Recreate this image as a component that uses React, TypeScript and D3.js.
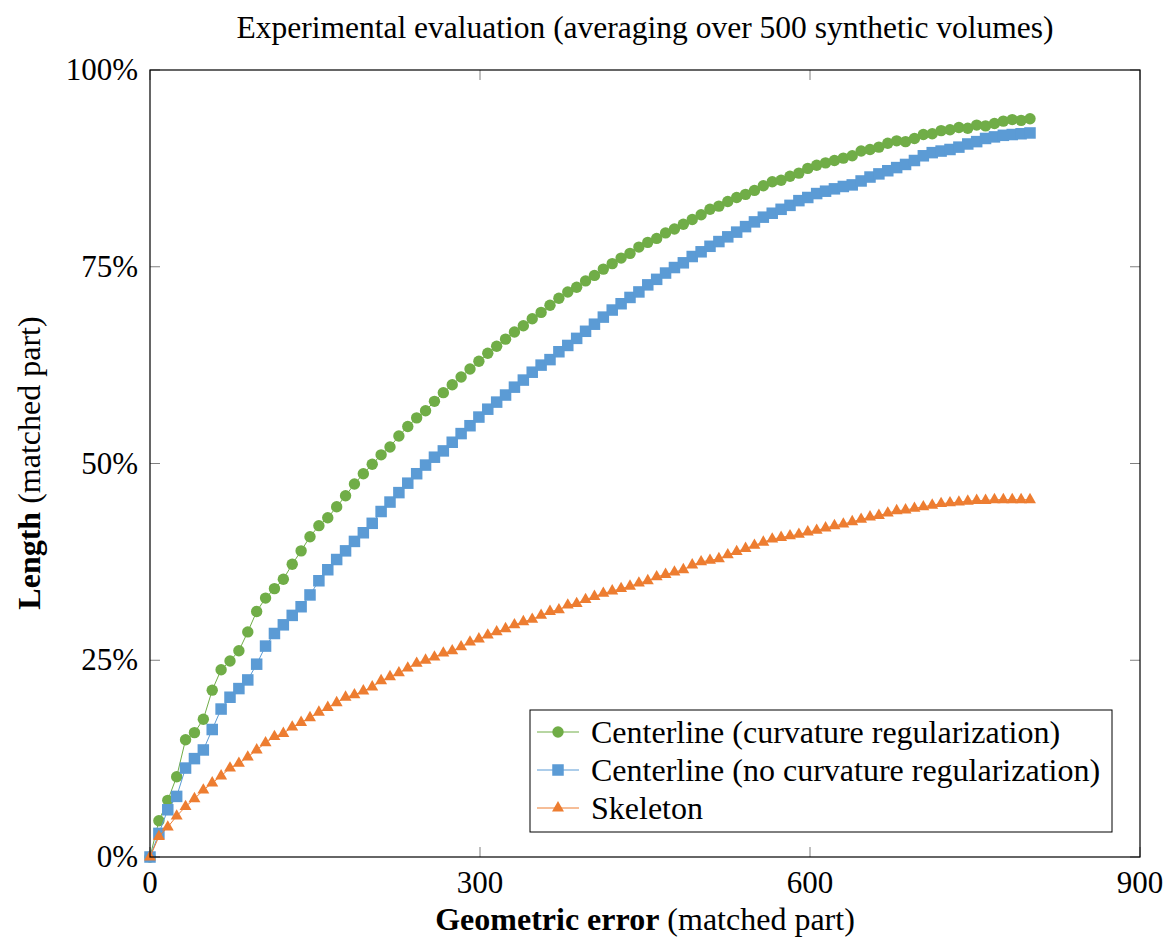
import React from "react";
import * as d3 from "d3";

// geometric error grid (100 evaluation thresholds between 0 and 800)
const errors = d3.range(100).map((i) => (i * 800) / 99);

const withCurvature = [
  0, 4.6, 7.2, 10.2, 14.9, 15.8, 17.5, 21.2, 23.8, 24.9, 26.2, 28.6, 31.2, 32.9, 34.1, 35.3, 37.2,
  38.9, 40.7, 42.1, 43.1, 44.5, 45.9, 47.4, 48.7, 49.9, 51.1, 52.1, 53.5, 54.7, 55.8, 56.7, 57.9,
  59.0, 60.0, 61.0, 62.0, 63.0, 64.0, 64.9, 65.8, 66.7, 67.5, 68.4, 69.2, 70.1, 71.0, 71.8, 72.4,
  73.2, 73.9, 74.7, 75.4, 76.1, 76.7, 77.5, 78.1, 78.6, 79.3, 79.8, 80.4, 81.0, 81.6, 82.3, 82.7,
  83.3, 83.8, 84.2, 84.7, 85.3, 85.8, 86.0, 86.5, 86.9, 87.5, 87.9, 88.2, 88.5, 88.8, 89.1, 89.7,
  89.9, 90.2, 90.7, 91.0, 90.9, 91.3, 91.8, 91.9, 92.3, 92.4, 92.7, 92.6, 93.0, 92.9, 93.2, 93.5,
  93.7, 93.6, 93.8,
];

const noCurvature = [
  0, 3.0, 6.0, 7.7, 11.3, 12.5, 13.6, 16.2, 18.8, 20.3, 21.4, 22.5, 24.5, 26.8, 28.4, 29.5, 30.7,
  31.8, 33.3, 35.1, 36.5, 37.8, 38.9, 40.1, 41.2, 42.4, 43.9, 45.1, 46.3, 47.5, 48.7, 49.8, 50.8,
  51.6, 52.7, 53.8, 54.8, 55.9, 56.9, 57.8, 58.7, 59.7, 60.6, 61.6, 62.5, 63.2, 64.2, 65.0, 65.9,
  66.8, 67.7, 68.6, 69.5, 70.3, 71.1, 71.8, 72.7, 73.4, 74.2, 74.9, 75.5, 76.3, 76.9, 77.6, 78.2,
  78.8, 79.4, 80.1, 80.7, 81.3, 81.8, 82.3, 82.8, 83.4, 83.8, 84.3, 84.6, 84.9, 85.2, 85.4, 85.9,
  86.4, 86.8, 87.2, 87.6, 88.0, 88.5, 89.1, 89.5, 89.7, 89.9, 90.2, 90.6, 90.9, 91.3, 91.5, 91.7,
  91.8, 91.9, 92.0,
];

const skeleton = [
  0, 2.6, 3.8, 5.2, 6.4, 7.4, 8.5, 9.4, 10.3, 11.3, 11.9, 12.7, 13.6, 14.5, 15.3, 15.7, 16.5, 17.1,
  17.7, 18.4, 19.0, 19.6, 20.3, 20.6, 21.1, 21.6, 22.4, 22.9, 23.4, 24.0, 24.6, 25.0, 25.4, 25.9,
  26.2, 26.7, 27.3, 27.7, 28.2, 28.6, 29.0, 29.5, 29.9, 30.2, 30.7, 31.2, 31.4, 32.0, 32.2, 32.7,
  33.1, 33.5, 33.8, 34.1, 34.4, 34.8, 35.1, 35.6, 35.9, 36.2, 36.5, 37.1, 37.5, 37.7, 37.9, 38.4,
  38.8, 39.2, 39.6, 40.0, 40.4, 40.6, 40.8, 41.0, 41.3, 41.5, 41.8, 42.1, 42.3, 42.6, 42.9, 43.2,
  43.4, 43.7, 44.0, 44.1, 44.3, 44.5, 44.7, 44.9, 45.0, 45.1, 45.2, 45.3, 45.3, 45.4, 45.4, 45.4,
  45.4, 45.4,
];

const xTicks = [0, 300, 600, 900];
const yTicks = [0, 25, 50, 75, 100];

const series = [
  { name: "Centerline (curvature regularization)", values: withCurvature, color: "#70AD47", mark: "circle" },
  { name: "Centerline (no curvature regularization)", values: noCurvature, color: "#5B9BD5", mark: "square" },
  { name: "Skeleton", values: skeleton, color: "#ED7D31", mark: "triangle" },
];

const W = 1173;
const H = 941;
const font = "'Liberation Serif', 'Times New Roman', serif";

const x = d3.scaleLinear().domain([0, 900]).range([150, 1140]);
const y = d3.scaleLinear().domain([0, 100]).range([857, 70]);

const triangle = d3.symbol(d3.symbolTriangle, 62)();

function Marker({ kind, cx, cy, color }) {
  if (kind === "circle") return <circle cx={cx} cy={cy} r={5.7} fill={color} />;
  if (kind === "square")
    return <rect x={cx - 5.75} y={cy - 5.75} width={11.5} height={11.5} fill={color} />;
  return <path d={triangle} transform={`translate(${cx},${cy})`} fill={color} />;
}

export default function App() {
  const line = d3
    .line<number>()
    .x((_, i) => x(errors[i]))
    .y((d) => y(d));

  const [x0, x1] = x.range();
  const [y0, y1] = y.range();
  const tickLen = 10;

  return (
    <svg
      width={W}
      height={H}
      style={{ position: "absolute", left: 0, top: 0, background: "#fff" }}
      fontFamily={font}
    >
      <text x={645} y={38} fontSize={31.5} textAnchor="middle">
        Experimental evaluation (averaging over 500 synthetic volumes)
      </text>

      {/* ticks on all four sides, pointing inwards */}
      {xTicks.map((t) => (
        <g key={"x" + t}>
          <line x1={x(t)} x2={x(t)} y1={y0} y2={y0 - tickLen} stroke="#808080" />
          <line x1={x(t)} x2={x(t)} y1={y1} y2={y1 + tickLen} stroke="#808080" />
          <text x={x(t)} y={y0 + 36} fontSize={31} textAnchor="middle">
            {t}
          </text>
        </g>
      ))}
      {yTicks.map((t) => (
        <g key={"y" + t}>
          <line x1={x0} x2={x0 + tickLen} y1={y(t)} y2={y(t)} stroke="#808080" />
          <line x1={x1} x2={x1 - tickLen} y1={y(t)} y2={y(t)} stroke="#808080" />
          <text x={x0 - 12} y={y(t) + 10} fontSize={31} textAnchor="end">
            {t}%
          </text>
        </g>
      ))}

      {series.map((s) => (
        <g key={s.name}>
          <path d={line(s.values) || ""} fill="none" stroke={s.color} strokeWidth={1} />
          {s.values.map((v, i) => (
            <Marker key={i} kind={s.mark} cx={x(errors[i])} cy={y(v)} color={s.color} />
          ))}
        </g>
      ))}

      <rect x={x0} y={y1} width={x1 - x0} height={y0 - y1} fill="none" stroke="#000" strokeWidth={1.2} />

      {/* legend */}
      <rect x={530} y={710} width={582} height={122} fill="#fff" stroke="#000" strokeWidth={1} />
      {series.map((s, i) => {
        const ly = 732 + i * 38;
        return (
          <g key={"lg" + s.name}>
            <line x1={537} x2={579} y1={ly} y2={ly} stroke={s.color} strokeWidth={1} />
            <Marker kind={s.mark} cx={558} cy={ly} color={s.color} />
            <text x={591} y={ly + 11} fontSize={32}>
              {s.name}
            </text>
          </g>
        );
      })}

      <text x={645} y={930} fontSize={32} textAnchor="middle">
        <tspan fontWeight="bold">Geometric error</tspan> (matched part)
      </text>
      <text transform={`translate(40,463) rotate(-90)`} fontSize={32} textAnchor="middle">
        <tspan fontWeight="bold">Length</tspan> (matched part)
      </text>
    </svg>
  );
}
